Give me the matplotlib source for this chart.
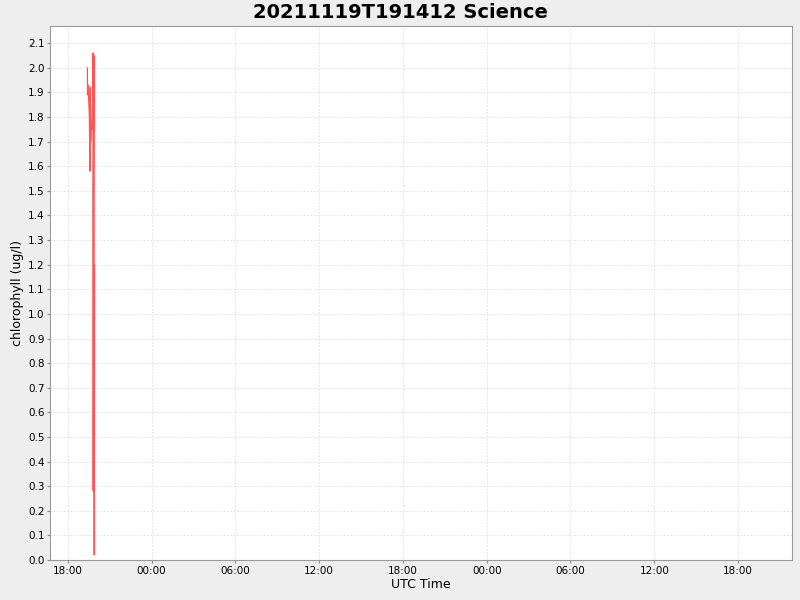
import datetime as dt

import matplotlib
matplotlib.use("Agg")
import matplotlib.pyplot as plt
import matplotlib.dates as mdates
from matplotlib.ticker import MultipleLocator, FormatStrFormatter

# chlorophyll samples (times as HH:MM:SS on 2021-11-19)
times = [
    "19:23:45", "19:24:00", "19:26:45", "19:32:20", "19:34:35",
    "19:35:50", "19:38:00", "19:39:40", "19:42:20", "19:45:20",
    "19:47:30", "19:48:40", "19:50:00", "19:51:50", "19:53:00",
    "19:54:20",
]
chlorophyll = [
    2.00, 1.89, 1.93, 1.80, 1.58,
    1.92, 1.70, 1.77, 1.75, 1.85,
    2.06, 0.28, 1.50, 2.05, 0.02,
    1.20,
]

day = dt.date(2021, 11, 19)
t = [dt.datetime.combine(day, dt.time.fromisoformat(s)) for s in times]

x_start = dt.datetime(2021, 11, 19, 16, 43)
x_end = dt.datetime(2021, 11, 21, 21, 52)

fig = plt.figure(figsize=(8, 6), dpi=100, facecolor="#EEEEEE")
ax = fig.add_axes([0.0625, 0.0667, 0.9275, 0.89])
ax.set_facecolor("white")

ax.plot(t, chlorophyll, color="#FF5555", linewidth=0.9)

ax.set_xlim(x_start, x_end)
ax.set_ylim(0, 2.17)
ax.xaxis.set_major_locator(mdates.HourLocator(byhour=[0, 6, 12, 18]))
ax.xaxis.set_major_formatter(mdates.DateFormatter("%H:%M"))
ax.yaxis.set_major_locator(MultipleLocator(0.1))
ax.yaxis.set_major_formatter(FormatStrFormatter("%.1f"))

ax.grid(True, color="#DDDDDD", linestyle=(0, (2, 2)), linewidth=0.6)
ax.tick_params(labelsize=7.5, length=2, color="#888888", pad=2)
for s in ax.spines.values():
    s.set_color("#999999")

ax.set_xlabel("UTC Time", fontsize=9, labelpad=2)
ax.set_ylabel("chlorophyll (ug/l)", fontsize=9, labelpad=3)
fig.suptitle("20211119T191412 Science", fontsize=14, fontweight="bold", y=0.995)

fig.savefig("out.png", dpi=100, facecolor=fig.get_facecolor())
